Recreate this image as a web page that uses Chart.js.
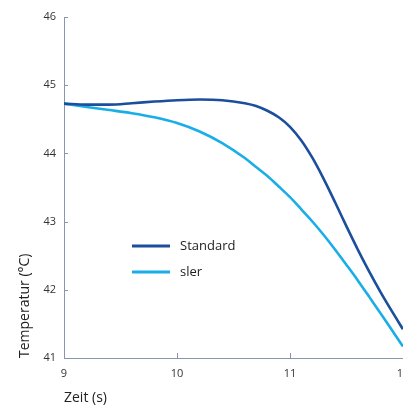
<!DOCTYPE html>
<html>
<head>
<meta charset="utf-8">
<script src="https://cdn.jsdelivr.net/npm/chart.js@4/dist/chart.umd.min.js"></script>
<style>
html,body{margin:0;padding:0;background:#fff;}
#wrap{width:403px;height:408px;position:relative;}
</style>
</head>
<body>
<div id="wrap"><canvas id="c" width="403" height="408"></canvas></div>
<script>
const seriesNames = ['Standard', 'sler'];
const xTicks = [9, 10, 11, 12];
const yTicks = [41, 42, 43, 44, 45, 46];
const timeX = [9.0, 9.2, 9.4, 9.6, 9.8, 10.0, 10.2, 10.4, 10.6, 10.7, 10.8, 10.9, 11.0, 11.1, 11.2, 11.3, 11.4, 11.5, 11.6, 11.7, 11.8, 11.9, 12.0];
const standardY = [44.73, 44.715, 44.715, 44.735, 44.76, 44.78, 44.79, 44.78, 44.735, 44.695, 44.625, 44.53, 44.39, 44.19, 43.93, 43.62, 43.28, 42.93, 42.59, 42.27, 41.97, 41.69, 41.42];
const slerY = [44.73, 44.68, 44.636, 44.59, 44.53, 44.446, 44.322, 44.152, 43.932, 43.80, 43.668, 43.515, 43.358, 43.18, 42.998, 42.80, 42.588, 42.365, 42.138, 41.90, 41.658, 41.415, 41.168];
const xTitle = 'Zeit (s)';
const yTitle = 'Temperatur (°C)';

const colors = ['#1b4f9e', '#19aee8'];
const FONT = "'Open Sans', 'Noto Sans', sans-serif";

function pts(xs, ys) { return xs.map((x, i) => ({x: x, y: ys[i]})); }

const innerTicks = {
  id: 'innerTicks',
  afterDatasetsDraw(chart) {
    const ctx = chart.ctx;
    const xs = chart.scales.x, ys = chart.scales.y;
    const a = chart.chartArea;
    ctx.save();
    ctx.strokeStyle = '#8a95ad';
    ctx.lineWidth = 1;
    xTicks.forEach(v => {
      const px = Math.round(xs.getPixelForValue(v)) + 0.5;
      ctx.beginPath(); ctx.moveTo(px, a.bottom); ctx.lineTo(px, a.bottom - 5); ctx.stroke();
    });
    yTicks.forEach(v => {
      const py = Math.round(ys.getPixelForValue(v)) + 0.5;
      ctx.beginPath(); ctx.moveTo(a.left, py); ctx.lineTo(a.left + 4, py); ctx.stroke();
    });
    ctx.restore();
  }
};

const legendInside = {
  id: 'legendInside',
  afterDraw(chart) {
    const ctx = chart.ctx;
    const a = chart.chartArea;
    ctx.save();
    ctx.font = "13px " + FONT;
    ctx.textBaseline = 'middle';
    ctx.fillStyle = '#222';
    chart.data.datasets.forEach((ds, i) => {
      const y = a.top + 229 + i * 26;
      ctx.strokeStyle = ds.borderColor;
      ctx.lineWidth = 3;
      ctx.beginPath(); ctx.moveTo(a.left + 68, y); ctx.lineTo(a.left + 106, y); ctx.stroke();
      ctx.fillText(ds.label, a.left + 116, y);
    });
    ctx.restore();
  }
};

new Chart(document.getElementById('c'), {
  type: 'line',
  data: {
    datasets: [
      {label: seriesNames[0], data: pts(timeX, standardY), borderColor: colors[0], borderWidth: 2.6, pointRadius: 0, cubicInterpolationMode: 'monotone', fill: false},
      {label: seriesNames[1], data: pts(timeX, slerY), borderColor: colors[1], borderWidth: 2.6, pointRadius: 0, cubicInterpolationMode: 'monotone', fill: false}
    ]
  },
  options: {
    responsive: false,
    animation: false,
    layout: {padding: {left: 13, right: 0, top: 17, bottom: 0}},
    plugins: {legend: {display: false}, tooltip: {enabled: false}},
    scales: {
      x: {
        type: 'linear', min: 9, max: 12,
        afterBuildTicks(s) { s.ticks = xTicks.map(v => ({value: v})); },
        afterFit(s) { s.height = 50; s.paddingLeft = 0; s.paddingRight = 0; },
        ticks: {color: '#333', font: {size: 11, family: FONT}, padding: 9, maxRotation: 0, autoSkip: false},
        grid: {display: true, drawOnChartArea: false, drawTicks: false},
        border: {display: true, color: '#8a95ad', width: 1},
        title: {display: true, text: xTitle, align: 'start', color: '#222', font: {size: 14, family: FONT}, padding: {top: 0, bottom: 2}}
      },
      y: {
        type: 'linear', min: 41, max: 46,
        afterBuildTicks(s) { s.ticks = yTicks.map(v => ({value: v})); },
        afterFit(s) { s.width = 51; },
        ticks: {color: '#333', font: {size: 11, family: FONT}, padding: 8},
        grid: {display: true, drawOnChartArea: false, drawTicks: false},
        border: {display: true, color: '#8a95ad', width: 1},
        title: {display: true, text: yTitle, align: 'start', color: '#222', font: {size: 14, family: FONT}, padding: {top: 4, bottom: 4}}
      }
    }
  },
  plugins: [innerTicks, legendInside]
});
</script>
</body>
</html>
